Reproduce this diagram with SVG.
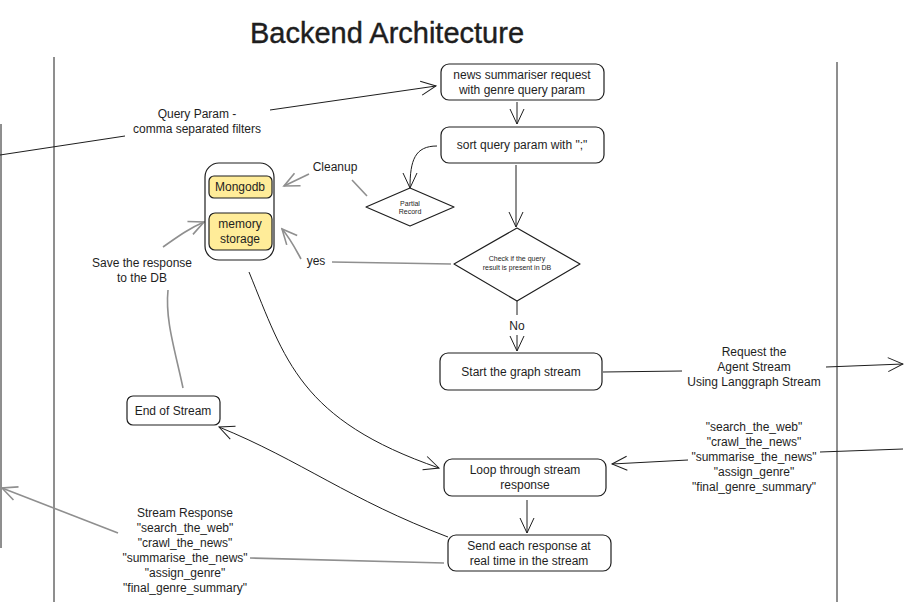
<svg xmlns="http://www.w3.org/2000/svg" width="904" height="602" viewBox="0 0 904 602">
<style>
text{font-family:"Liberation Sans","DejaVu Sans",sans-serif;fill:#1e1e1e;text-anchor:middle}
.node{fill:#fff;stroke:#1e1e1e;stroke-width:1.2}
.db{fill:#ffec99;stroke:#1e1e1e;stroke-width:1.2}
.t{font-size:12px}
.s{font-size:7px}
.c{fill:none;stroke:#1e1e1e;stroke-width:1}
.g{fill:none;stroke:#8f8f8f;stroke-width:1.6}
.lane{stroke:#1e1e1e;stroke-width:1}
</style>
<defs>
<marker id="a" markerUnits="userSpaceOnUse" markerWidth="18" markerHeight="18" viewBox="0 0 18 18" refX="16" refY="9" orient="auto">
<path d="M1,2 L16,9 L1,16" fill="none" stroke="#1e1e1e" stroke-width="1"/>
</marker>
<marker id="ag" markerUnits="userSpaceOnUse" markerWidth="18" markerHeight="18" viewBox="0 0 18 18" refX="16" refY="9" orient="auto">
<path d="M1,2 L16,9 L1,16" fill="none" stroke="#8f8f8f" stroke-width="1.6"/>
</marker>
</defs>
<rect width="904" height="602" fill="#fff"/>
<text x="387" y="43" style="font-size:29px;stroke:#1e1e1e;stroke-width:0.4">Backend Architecture</text>
<g id="lanes">
<line class="lane" x1="1" y1="124" x2="1" y2="548" stroke="#8f8f8f"/>
<line class="lane" x1="54" y1="57" x2="54" y2="602"/>
<line class="lane" x1="837" y1="62" x2="837" y2="602"/>
</g>
<g id="connectors">
<path class="c" d="M0,155 L125,136"/>
<path class="c" d="M270,110 L436,86" marker-end="url(#a)"/>
<path class="c" d="M517,102 L517,124" marker-end="url(#a)"/>
<path class="c" d="M437,146 C415,146 410,160 410,188" marker-end="url(#a)"/>
<path class="c" d="M516,165 L516,227" marker-end="url(#a)"/>
<path class="g" d="M367,196 L352,180"/>
<path class="g" d="M309,174 L284,186" marker-end="url(#ag)"/>
<path class="g" d="M451,264 L332,262"/>
<path class="g" d="M301,259 C295,248 290,238 282,229" marker-end="url(#ag)"/>
<path class="c" d="M517,301 L517,315"/>
<path class="c" d="M517,335 L517,351" marker-end="url(#a)"/>
<path class="c" d="M603,372 L682,371"/>
<path class="c" d="M826,367 L903,364" marker-end="url(#a)"/>
<path class="c" d="M903,449 L820,452"/>
<path class="c" d="M688,460 L612,464" marker-end="url(#a)"/>
<path class="c" d="M249,272 C285,360 300,420 439,468" marker-end="url(#a)"/>
<path class="c" d="M527,500 L527,533" marker-end="url(#a)"/>
<path class="c" d="M448,537 C350,500 300,460 219,427" marker-end="url(#a)"/>
<path class="g" d="M444,563 L250,558"/>
<path class="g" d="M118,533 L2,488" marker-end="url(#ag)"/>
<path class="g" d="M183,388 C175,350 165,320 168,290"/>
<path class="g" d="M163,247 C180,235 190,228 204,222" marker-end="url(#ag)"/>
</g>
<g id="labels">
<text class="t" x="197" y="118">Query Param -</text>
<text class="t" x="197" y="133">comma separated filters</text>
<text class="t" x="335" y="171">Cleanup</text>
<text class="t" x="316" y="265">yes</text>
<text class="t" x="517" y="330">No</text>
<text class="t" x="754" y="356">Request the</text>
<text class="t" x="754" y="371">Agent Stream</text>
<text class="t" x="754" y="386">Using Langgraph Stream</text>
<text class="t" x="754" y="431">"search_the_web"</text>
<text class="t" x="754" y="446">"crawl_the_news"</text>
<text class="t" x="754" y="461">"summarise_the_news"</text>
<text class="t" x="754" y="476">"assign_genre"</text>
<text class="t" x="754" y="491">"final_genre_summary"</text>
<text class="t" x="185" y="517">Stream Response</text>
<text class="t" x="185" y="532">"search_the_web"</text>
<text class="t" x="185" y="547">"crawl_the_news"</text>
<text class="t" x="185" y="562">"summarise_the_news"</text>
<text class="t" x="185" y="577">"assign_genre"</text>
<text class="t" x="185" y="592">"final_genre_summary"</text>
<text class="t" x="142" y="267">Save the response</text>
<text class="t" x="142" y="282">to the DB</text>
</g>
<g id="n-request">
<rect class="node" x="441" y="64" width="163" height="36" rx="8"/>
<text class="t" x="522" y="79">news summariser request</text>
<text class="t" x="522" y="94">with genre query param</text>
</g>
<g id="n-sort">
<rect class="node" x="441" y="127" width="163" height="36" rx="8"/>
<text class="t" x="522" y="149">sort query param with ";"</text>
</g>
<g id="n-partial">
<path class="node" d="M410,188 L454,207 L410,226 L366,207 Z" stroke-linejoin="round"/>
<text class="s" x="410" y="206">Partial</text>
<text class="s" x="410" y="214">Record</text>
</g>
<g id="n-check">
<path class="node" d="M517,228 L580,264 L517,301 L454,264 Z" stroke-linejoin="round"/>
<text class="s" x="517" y="261">Check if the query</text>
<text class="s" x="517" y="270">result is present in DB</text>
</g>
<g id="n-start">
<rect class="node" x="440" y="353" width="162" height="37" rx="8"/>
<text class="t" x="521" y="376">Start the graph stream</text>
</g>
<g id="n-storage">
<rect class="node" x="205" y="163" width="69" height="97" rx="14"/>
<rect class="db" x="209" y="176" width="63" height="22" rx="5"/>
<text class="t" x="240" y="191">Mongodb</text>
<rect class="db" x="209" y="213" width="63" height="37" rx="6"/>
<text class="t" x="240" y="228">memory</text>
<text class="t" x="240" y="243">storage</text>
</g>
<g id="n-end">
<rect class="node" x="127" y="396" width="93" height="29" rx="6"/>
<text class="t" x="173" y="415">End of Stream</text>
</g>
<g id="n-loop">
<rect class="node" x="444" y="459" width="162" height="37" rx="8"/>
<text class="t" x="525" y="474">Loop through stream</text>
<text class="t" x="525" y="489">response</text>
</g>
<g id="n-send">
<rect class="node" x="448" y="535" width="163" height="36" rx="8"/>
<text class="t" x="529" y="550">Send each response at</text>
<text class="t" x="529" y="565">real time in the stream</text>
</g>
</svg>
